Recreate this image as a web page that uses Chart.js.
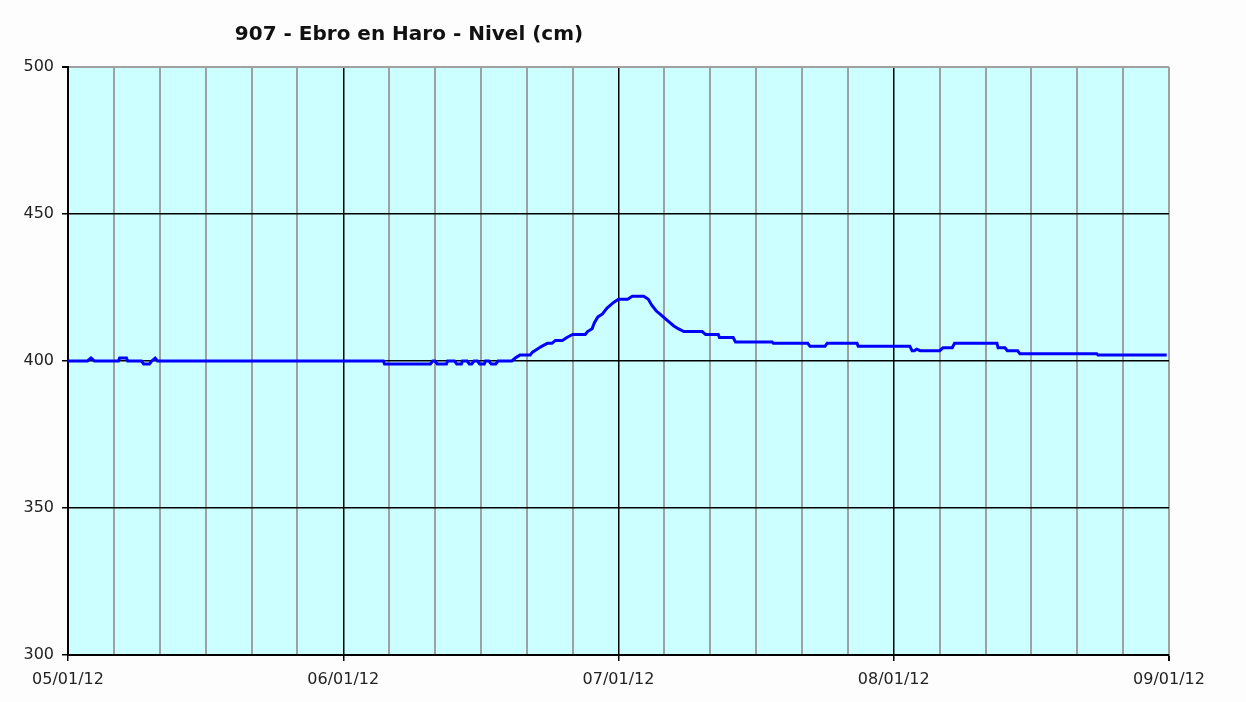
<!DOCTYPE html>
<html lang="es">
<head>
  <meta charset="UTF-8">
  <title>907 - Ebro en Haro - Nivel (cm)</title>
  <script src="https://cdn.jsdelivr.net/npm/chart.js"></script>
  <style>
    html, body {
      margin: 0;
      padding: 0;
      background: #fdfdfd;
    }
    #wrap {
      width: 1246px;
      height: 702px;
    }
  </style>
</head>
<body>
  <div id="wrap">
    <canvas id="nivelChart" width="1246" height="702"></canvas>
  </div>

  <script>
    const TITLE = '907 - Ebro en Haro - Nivel (cm)';

    // x labels, one per day (x axis runs in hours from 05/01/12 00:00)
    const dayLabels = ['05/01/12', '06/01/12', '07/01/12', '08/01/12', '09/01/12'];

    // hours since start
    const hours = [
      0, 1.7, 2.0, 2.3, 4.4, 4.5, 5.1, 5.2, 6.4, 6.6, 7.1, 7.3, 7.6, 7.8,
      27.5, 27.6, 31.6, 31.8, 32.0, 32.2, 33.0, 33.1, 33.7, 33.9, 34.3, 34.4,
      34.8, 35.0, 35.2, 35.4, 35.7, 35.9, 36.3, 36.4, 36.7, 36.9, 37.3, 37.5,
      38.7, 39.0, 39.4, 40.3, 40.5, 40.9, 41.3, 41.8, 42.2, 42.5, 43.1, 43.5,
      44.0, 45.1, 45.3, 45.7, 45.9, 46.2, 46.6, 47.0, 47.3, 47.6, 48.0, 48.8,
      49.2, 50.2, 50.6, 50.9, 51.3, 51.6, 52.2, 52.8, 53.2, 53.7, 55.3, 55.6,
      56.7, 56.8, 58.0, 58.2, 61.4, 61.5, 64.5, 64.7, 66.0, 66.2, 68.8, 68.9,
      73.4, 73.6, 73.8, 74.0, 74.3, 76.0, 76.3, 77.1, 77.3, 81.0, 81.1, 81.7,
      81.9, 82.8, 83.0, 89.7, 89.8, 95.8
    ];

    // level in cm at each of those hours
    const nivel = [
      400, 400, 401, 400, 400, 401, 401, 400, 400, 399, 399, 400, 401, 400,
      400, 399, 399, 400, 400, 399, 399, 400, 400, 399, 399, 400,
      400, 399, 399, 400, 400, 399, 399, 400, 400, 399, 399, 400,
      400, 401, 402, 402, 403, 404, 405, 406, 406, 407, 407, 408,
      409, 409, 410, 411, 413, 415, 416, 418, 419, 420, 421, 421,
      422, 422, 421, 419, 417, 416, 414, 412, 411, 410, 410, 409,
      409, 408, 408, 406.5, 406.5, 406, 406, 405, 405, 406, 406, 405,
      405, 403.5, 403.5, 404, 403.5, 403.5, 404.5, 404.5, 406, 406, 404.5, 404.5,
      403.5, 403.5, 402.5, 402.5, 402, 402
    ];

    const yTicks = [300, 350, 400, 450, 500];

    const points = hours.map((h, i) => ({ x: h, y: nivel[i] }));

    // cyan plot background + title text
    const plotBackground = {
      id: 'plotBackground',
      beforeDraw(chart) {
        const { ctx, chartArea: a } = chart;
        ctx.save();
        ctx.fillStyle = '#ccffff';
        ctx.fillRect(a.left, a.top, a.right - a.left, a.bottom - a.top);
        ctx.restore();
      },
      afterDraw(chart) {
        const ctx = chart.ctx;
        ctx.save();
        ctx.font = 'bold 20px "DejaVu Sans", sans-serif';
        ctx.fillStyle = '#111';
        ctx.textAlign = 'center';
        ctx.textBaseline = 'middle';
        ctx.fillText(TITLE, 409, 35);
        ctx.restore();
      }
    };

    new Chart(document.getElementById('nivelChart'), {
      type: 'line',
      data: {
        datasets: [{
          label: 'Nivel (cm)',
          data: points,
          borderColor: '#0000ff',
          borderWidth: 3,
          pointRadius: 0,
          tension: 0,
          fill: false
        }]
      },
      options: {
        responsive: false,
        animation: false,
        layout: { padding: { top: 67, right: 77, bottom: 0, left: 0 } },
        plugins: {
          legend: { display: false },
          tooltip: { enabled: false },
          title: { display: false }
        },
        scales: {
          x: {
            type: 'linear',
            min: 0,
            max: 96,
            afterFit(scale) { scale.height = 47; },
            afterBuildTicks(scale) {
              const t = [];
              for (let h = 0; h <= 96; h += 4) t.push({ value: h });
              scale.ticks = t;
            },
            ticks: {
              autoSkip: false,
              maxRotation: 0,
              padding: 9,
              color: '#222',
              font: { family: '"DejaVu Sans", sans-serif', size: 16 },
              callback: (v) => (v % 24 === 0 ? dayLabels[v / 24] : '')
            },
            grid: {
              color: (c) => {
                const v = c.tick ? c.tick.value : 0;
                if (v === 96) return '#a0a0a0';
                return v % 24 === 0 ? '#000' : '#a0a0a0';
              },
              lineWidth: (c) => {
                const v = c.tick ? c.tick.value : 0;
                return v % 24 === 0 && v !== 96 ? 1.5 : 2;
              },
              tickColor: (c) => {
                const v = c.tick ? c.tick.value : 0;
                return v % 24 === 0 ? '#000' : 'rgba(0,0,0,0)';
              },
              tickLength: 6
            },
            border: { color: '#000', width: 2 }
          },
          y: {
            min: 300,
            max: 500,
            afterFit(scale) { scale.width = 68; },
            afterBuildTicks(scale) {
              scale.ticks = yTicks.map(v => ({ value: v }));
            },
            ticks: {
              padding: 8,
              color: '#222',
              font: { family: '"DejaVu Sans", sans-serif', size: 16 }
            },
            grid: {
              color: (c) => (c.tick && c.tick.value === 500 ? '#a0a0a0' : '#000'),
              lineWidth: (c) => (c.tick && c.tick.value === 500 ? 2 : 1.5),
              tickColor: '#000',
              tickLength: 6
            },
            border: { color: '#000', width: 2 }
          }
        }
      },
      plugins: [plotBackground]
    });
  </script>
</body>
</html>
